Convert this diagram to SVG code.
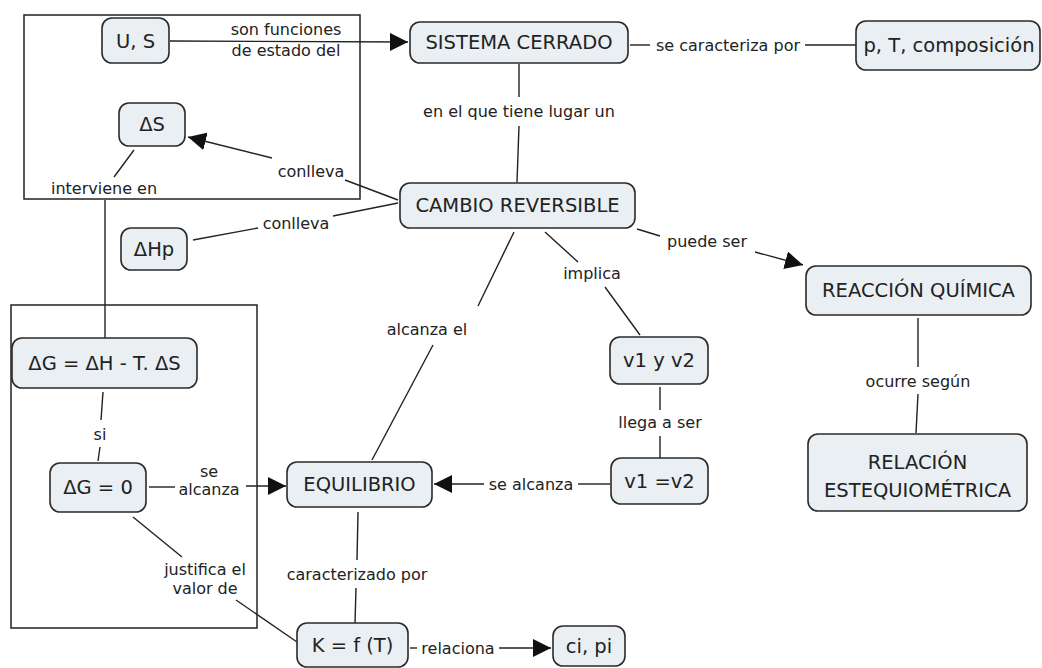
<svg xmlns="http://www.w3.org/2000/svg" width="1042" height="668" viewBox="0 0 1042 668">
<style>
.n rect{fill:#e9eff3;stroke:#2a2a2a;stroke-width:1.6}
.n text{font-family:"DejaVu Sans",Verdana,sans-serif;font-size:19.5px;fill:#222;text-anchor:middle}
.l{font-family:"DejaVu Sans",Verdana,sans-serif;font-size:16px;fill:#222;text-anchor:middle}
.c line,.c path{stroke:#222;stroke-width:1.4;fill:none}
.b{fill:none;stroke:#222;stroke-width:1.5}
</style>
<defs>
<marker id="A" viewBox="0 0 12 12" refX="12" refY="6" markerWidth="18" markerHeight="18" markerUnits="userSpaceOnUse" orient="auto"><path d="M0,0L12,6L0,12z" fill="#111"/></marker>
</defs>
<rect width="1042" height="668" fill="#fff"/>
<rect class="b" x="24" y="15" width="336" height="184"/>
<rect class="b" x="11" y="305" width="246" height="323"/>
<g class="c">
<line x1="170" y1="41" x2="408" y2="42" marker-end="url(#A)"/>
<line x1="630" y1="45" x2="650" y2="45"/>
<line x1="805" y1="45" x2="856" y2="45"/>
<line x1="519" y1="64" x2="519" y2="97"/>
<line x1="519" y1="126" x2="517" y2="182"/>
<line x1="398" y1="200" x2="345" y2="180"/>
<line x1="272" y1="158" x2="188" y2="137" marker-end="url(#A)"/>
<line x1="398" y1="203" x2="333" y2="216"/>
<line x1="258" y1="228" x2="193" y2="240"/>
<line x1="134" y1="150" x2="114" y2="177"/>
<line x1="105" y1="200" x2="105" y2="338"/>
<line x1="103" y1="392" x2="101" y2="420"/>
<line x1="100" y1="447" x2="98" y2="461"/>
<line x1="149" y1="487" x2="175" y2="487"/>
<line x1="246" y1="486" x2="286" y2="486" marker-end="url(#A)"/>
<line x1="133" y1="517" x2="182" y2="557"/>
<line x1="236" y1="600" x2="297" y2="642"/>
<line x1="358" y1="512" x2="357" y2="560"/>
<line x1="356" y1="588" x2="355" y2="623"/>
<line x1="410" y1="648" x2="417" y2="648"/>
<line x1="499" y1="648" x2="551" y2="648" marker-end="url(#A)"/>
<line x1="610" y1="484" x2="578" y2="484"/>
<line x1="484" y1="484" x2="434" y2="484" marker-end="url(#A)"/>
<line x1="660" y1="387" x2="660" y2="410"/>
<line x1="660" y1="436" x2="660" y2="458"/>
<line x1="545" y1="232" x2="578" y2="262"/>
<line x1="605" y1="287" x2="640" y2="335"/>
<line x1="514" y1="232" x2="478" y2="306"/>
<line x1="433" y1="345" x2="372" y2="460"/>
<line x1="637" y1="229" x2="660" y2="236"/>
<line x1="755" y1="252" x2="803" y2="265" marker-end="url(#A)"/>
<line x1="918" y1="318" x2="918" y2="367"/>
<line x1="918" y1="394" x2="916" y2="433"/>
</g>
<g id="labels">
<text class="l" x="286" y="35">son funciones</text>
<text class="l" x="286" y="56">de estado del</text>
<text class="l" x="728" y="51">se caracteriza por</text>
<text class="l" x="519" y="117">en el que tiene lugar un</text>
<text class="l" x="311" y="177">conlleva</text>
<text class="l" x="296" y="229">conlleva</text>
<text class="l" x="104" y="194">interviene en</text>
<text class="l" x="100" y="440">si</text>
<text class="l" x="209" y="477">se</text>
<text class="l" x="209" y="495">alcanza</text>
<text class="l" x="205" y="575">justifica el</text>
<text class="l" x="205" y="594">valor de</text>
<text class="l" x="357" y="580">caracterizado por</text>
<text class="l" x="458" y="654">relaciona</text>
<text class="l" x="531" y="490">se alcanza</text>
<text class="l" x="660" y="428">llega a ser</text>
<text class="l" x="592" y="279">implica</text>
<text class="l" x="427" y="335">alcanza el</text>
<text class="l" x="707" y="247">puede ser</text>
<text class="l" x="918" y="387">ocurre según</text>
</g>
<g id="us" class="n"><rect x="102" y="18" width="67" height="45" rx="10"/><text x="135.5" y="48">U, S</text></g>
<g id="sistema" class="n"><rect x="410" y="22" width="218" height="41" rx="10"/><text x="519" y="49">SISTEMA CERRADO</text></g>
<g id="ptc" class="n"><rect x="856" y="21" width="184" height="49" rx="10"/><text x="949" y="52">p, T, composición</text></g>
<g id="ds" class="n"><rect x="119" y="103" width="66" height="43" rx="10"/><text x="152" y="131">ΔS</text></g>
<g id="cambio" class="n"><rect x="400" y="183" width="235" height="45" rx="10"/><text x="517.5" y="212">CAMBIO REVERSIBLE</text></g>
<g id="dhp" class="n"><rect x="121" y="228" width="66" height="42" rx="10"/><text x="154" y="256">ΔHp</text></g>
<g id="dg" class="n"><rect x="12" y="338" width="185" height="50" rx="10"/><text x="104.5" y="370">ΔG = ΔH - T. ΔS</text></g>
<g id="dg0" class="n"><rect x="50" y="463" width="96" height="49" rx="10"/><text x="98" y="494">ΔG = 0</text></g>
<g id="equilibrio" class="n"><rect x="287" y="462" width="145" height="45" rx="10"/><text x="359.5" y="491">EQUILIBRIO</text></g>
<g id="k" class="n"><rect x="297" y="623" width="111" height="44" rx="10"/><text x="352.5" y="652">K = f (T)</text></g>
<g id="cipi" class="n"><rect x="553" y="626" width="72" height="40" rx="10"/><text x="589" y="653">ci, pi</text></g>
<g id="v1yv2" class="n"><rect x="610" y="337" width="98" height="47" rx="10"/><text x="659" y="367">v1 y v2</text></g>
<g id="v1eqv2" class="n"><rect x="611" y="458" width="97" height="46" rx="10"/><text x="659.5" y="488">v1 =v2</text></g>
<g id="reaccion" class="n"><rect x="806" y="266" width="225" height="49" rx="10"/><text x="918.5" y="297">REACCIÓN QUÍMICA</text></g>
<g id="relacion" class="n"><rect x="808" y="434" width="219" height="77" rx="10"/><text x="917.5" y="469">RELACIÓN</text><text x="917.5" y="497">ESTEQUIOMÉTRICA</text></g>
</svg>
